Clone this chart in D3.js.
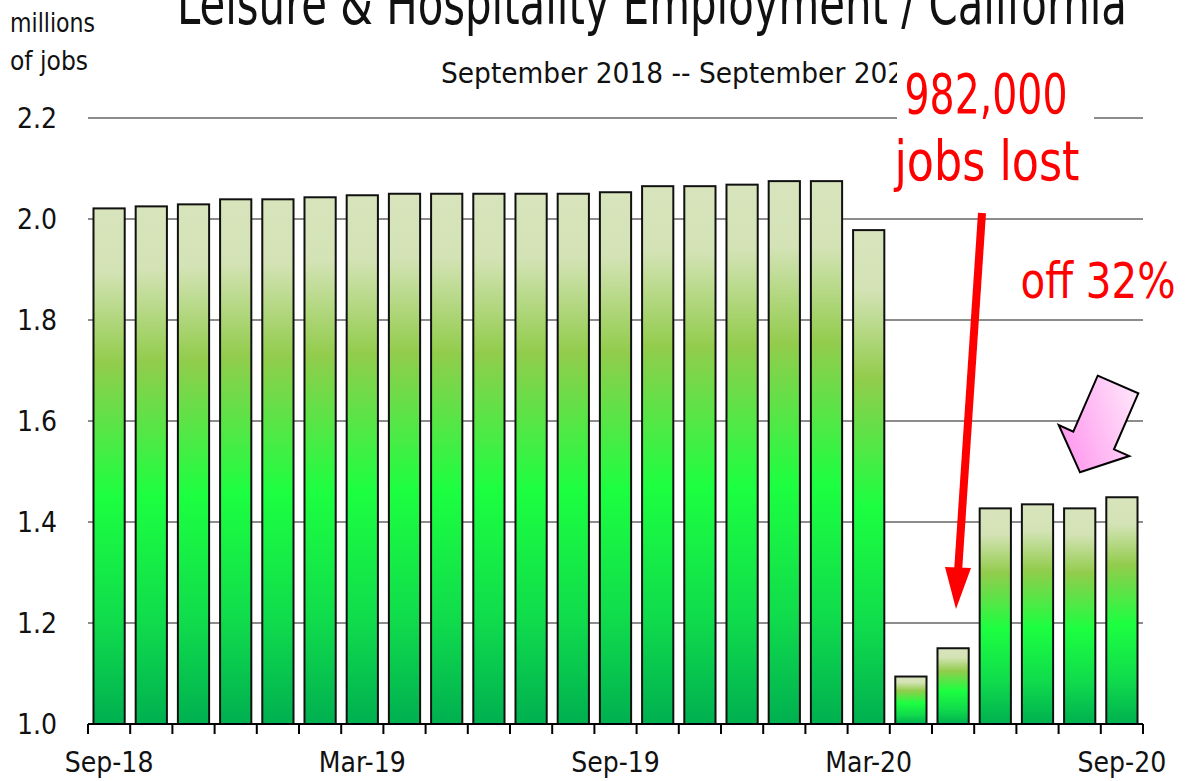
<!DOCTYPE html>
<html>
<head>
<meta charset="utf-8">
<script src="https://cdn.jsdelivr.net/npm/d3@7/dist/d3.min.js"></script>
<style>
  html, body { margin: 0; padding: 0; background: #fff; }
  text { font-family: "Liberation Sans Narrow", "Arial Narrow", "DejaVu Sans Condensed", sans-serif; }
</style>
</head>
<body>
<div id="chart"></div>
<script>
// monthly employment, millions of jobs
var months = ["Sep-18","Oct-18","Nov-18","Dec-18","Jan-19","Feb-19","Mar-19","Apr-19","May-19",
	"Jun-19","Jul-19","Aug-19","Sep-19","Oct-19","Nov-19","Dec-19","Jan-20","Feb-20","Mar-20",
	"Apr-20","May-20","Jun-20","Jul-20","Aug-20","Sep-20"];
var jobs = [2.021, 2.025, 2.029, 2.039, 2.039, 2.043, 2.047, 2.050, 2.050,
	2.050, 2.050, 2.050, 2.053, 2.065, 2.065, 2.068, 2.075, 2.075, 1.978,
	1.094, 1.150, 1.427, 1.435, 1.427, 1.449];
var xTickLabels = ["Sep-18","Mar-19","Sep-19","Mar-20","Sep-20"];
var yTicks = [1.0, 1.2, 1.4, 1.6, 1.8, 2.0, 2.2];

(function(){
	var width = 1188, height = 781;
	var plot = {left: 88, right: 1143, top: 118, bottom: 724};

	var svg = d3.select('#chart').append('svg')
		.attr('width', width)
		.attr('height', height);

	var x = d3.scaleBand()
		.domain(months)
		.range([plot.left, plot.right])
		.paddingInner(0.26)
		.paddingOuter(0.13);

	var y = d3.scaleLinear()
		.domain([1.0, 2.2])
		.range([plot.bottom, plot.top]);

	// bar gradient (per bar, top to bottom)
	var defs = svg.append('defs');
	var grad = defs.append('linearGradient')
		.attr('id', 'barGrad')
		.attr('x1', 0).attr('y1', 0).attr('x2', 0).attr('y2', 1);
	[[0, '#d8e4bc'], [0.12, '#d4e3b6'], [0.3, '#92cc4c'], [0.56, '#1cff40'], [0.8, '#10dc4c'], [1, '#00b050']]
		.forEach(function(s){
			grad.append('stop').attr('offset', s[0]).attr('stop-color', s[1]);
		});

	var pinkGrad = defs.append('linearGradient')
		.attr('id', 'pinkGrad')
		.attr('x1', 0).attr('y1', 0.6).attr('x2', 1).attr('y2', 0.2);
	pinkGrad.append('stop').attr('offset', 0).attr('stop-color', '#ff99ee');
	pinkGrad.append('stop').attr('offset', 1).attr('stop-color', '#ffe6fb');

	// gridlines
	svg.append('g')
		.selectAll('line')
		.data(yTicks.slice(1))
		.enter()
			.append('line')
				.attr('x1', plot.left)
				.attr('x2', plot.right)
				.attr('y1', function(d){ return y(d); })
				.attr('y2', function(d){ return y(d); })
				.attr('stroke', '#8c8c8c')
				.attr('stroke-width', 2);

	// y labels
	svg.append('g')
		.selectAll('text')
		.data(yTicks)
		.enter()
			.append('text')
				.attr('x', 57)
				.attr('y', function(d){ return y(d) + 10; })
				.attr('text-anchor', 'end')
				.attr('font-size', '28px')
				.attr('fill', '#111')
				.text(function(d){ return d3.format('.1f')(d); });

	// bars
	svg.append('g')
		.selectAll('rect')
		.data(jobs)
		.enter()
			.append('rect')
				.attr('x', function(d, i){ return x(months[i]); })
				.attr('y', function(d){ return y(d); })
				.attr('width', x.bandwidth())
				.attr('height', function(d){ return y(1.0) - y(d); })
				.attr('fill', 'url(#barGrad)')
				.attr('stroke', '#111')
				.attr('stroke-width', 2);

	// x axis line + ticks at band edges
	var step = x.step();
	var edges = months.map(function(m){ return x(m) - step * x.paddingInner() / 2; });
	edges.push(plot.right);
	svg.append('line')
		.attr('x1', plot.left).attr('x2', plot.right)
		.attr('y1', plot.bottom).attr('y2', plot.bottom)
		.attr('stroke', '#000').attr('stroke-width', 2);
	svg.append('g')
		.selectAll('line')
		.data(edges)
		.enter()
			.append('line')
				.attr('x1', function(d){ return d; })
				.attr('x2', function(d){ return d; })
				.attr('y1', plot.bottom)
				.attr('y2', plot.bottom + 10)
				.attr('stroke', '#000')
				.attr('stroke-width', 2);

	svg.append('g')
		.selectAll('text')
		.data(xTickLabels)
		.enter()
			.append('text')
				.attr('x', function(d){ return x(d) + x.bandwidth() / 2; })
				.attr('y', 772)
				.attr('text-anchor', 'middle')
				.attr('font-size', '28px')
				.attr('fill', '#111')
				.text(function(d){ return d; });

	// titles
	svg.append('text')
		.attr('x', 652).attr('y', 24)
		.attr('text-anchor', 'middle')
		.attr('font-size', '58px')
		.attr('textLength', 950)
		.attr('lengthAdjust', 'spacingAndGlyphs')
		.attr('fill', '#111')
		.text('Leisure & Hospitality Employment / California');

	svg.append('text')
		.attr('x', 441).attr('y', 83)
		.attr('font-size', '28px')
		.attr('textLength', 480)
		.attr('lengthAdjust', 'spacingAndGlyphs')
		.attr('fill', '#111')
		.text('September 2018 -- September 2020');

	svg.append('text')
		.attr('x', 10).attr('y', 32)
		.attr('font-size', '27px')
		.attr('textLength', 85)
		.attr('lengthAdjust', 'spacingAndGlyphs')
		.attr('fill', '#111')
		.text('millions');
	svg.append('text')
		.attr('x', 10).attr('y', 70)
		.attr('font-size', '27px')
		.attr('textLength', 78)
		.attr('lengthAdjust', 'spacingAndGlyphs')
		.attr('fill', '#111')
		.text('of jobs');

	// annotation box
	svg.append('rect')
		.attr('x', 897).attr('y', 56)
		.attr('width', 197).attr('height', 140)
		.attr('fill', '#fff');

	svg.append('text')
		.attr('x', 986).attr('y', 113)
		.attr('text-anchor', 'middle')
		.attr('font-size', '56px')
		.attr('textLength', 163)
		.attr('lengthAdjust', 'spacingAndGlyphs')
		.attr('fill', '#ff0000')
		.text('982,000');
	svg.append('text')
		.attr('x', 987).attr('y', 180)
		.attr('text-anchor', 'middle')
		.attr('font-size', '56px')
		.attr('textLength', 185)
		.attr('lengthAdjust', 'spacingAndGlyphs')
		.attr('fill', '#ff0000')
		.text('jobs lost');
	svg.append('text')
		.attr('x', 1098).attr('y', 298)
		.attr('text-anchor', 'middle')
		.attr('font-size', '50px')
		.attr('textLength', 155)
		.attr('lengthAdjust', 'spacingAndGlyphs')
		.attr('fill', '#ff0000')
		.text('off 32%');

	// red arrow
	svg.append('line')
		.attr('x1', 982).attr('y1', 213)
		.attr('x2', 958).attr('y2', 572)
		.attr('stroke', '#ff0000')
		.attr('stroke-width', 8);
	svg.append('path')
		.attr('d', 'M945,567 L971,568 L956,609 Z')
		.attr('fill', '#ff0000');

	// pink block arrow
	svg.append('path')
		.attr('d', 'M1097.7,375.7 L1138.3,393.3 L1114,449.3 L1129.3,456 L1080,472.3 L1058.7,425 L1073.3,431.7 Z')
		.attr('fill', 'url(#pinkGrad)')
		.attr('stroke', '#000')
		.attr('stroke-width', 2)
		.attr('stroke-linejoin', 'miter');
})();
</script>
</body>
</html>
